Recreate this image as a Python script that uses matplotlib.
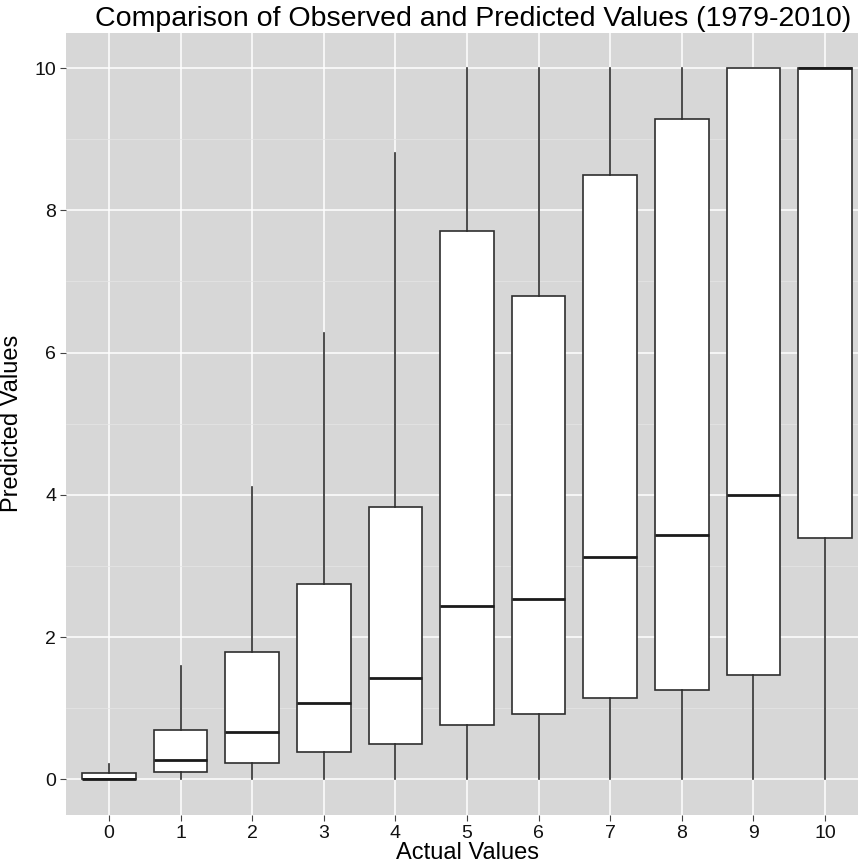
import matplotlib
matplotlib.use("Agg")
import matplotlib.pyplot as plt
from matplotlib.ticker import MultipleLocator

plt.rcParams['font.family'] = ['Liberation Sans', 'DejaVu Sans']

# box summaries, one entry per actual value
categories = [0, 1, 2, 3, 4, 5, 6, 7, 8, 9, 10]
whisker_low = [0, 0, 0, 0, 0, 0, 0, 0, 0, 0, 0]
q1 = [0.0, 0.10, 0.23, 0.39, 0.50, 0.77, 0.92, 1.14, 1.26, 1.47, 3.40]
median = [0.01, 0.28, 0.66, 1.08, 1.42, 2.44, 2.54, 3.12, 3.43, 4.00, 10.0]
q3 = [0.09, 0.70, 1.79, 2.75, 3.83, 7.71, 6.79, 8.50, 9.28, 10.0, 10.0]
whisker_high = [0.21, 1.60, 4.11, 6.28, 8.80, 10.0, 10.0, 10.0, 10.0, 10.0, 10.0]

stats = []
for i, c in enumerate(categories):
    stats.append({'label': str(c), 'whislo': whisker_low[i], 'q1': q1[i],
                  'med': median[i], 'q3': q3[i], 'whishi': whisker_high[i],
                  'fliers': []})

fig = plt.figure(figsize=(8.58, 8.65), dpi=100)
W, H = 858, 865
# panel runs past the right edge, like the cropped original
ax = fig.add_axes([66 / W, 50 / H, (868 - 66) / W, (815 - 32.5) / H])
ax.set_facecolor('#d7d7d7')
for s in ax.spines.values():
    s.set_visible(False)

edge = '#2e2e2e'
ax.bxp(stats, positions=categories, widths=0.75, showcaps=False,
       patch_artist=True,
       boxprops=dict(facecolor='white', edgecolor=edge, linewidth=1.2),
       whiskerprops=dict(color=edge, linewidth=1.2),
       medianprops=dict(color='#1a1a1a', linewidth=2.0, solid_capstyle='butt'),
       zorder=3)

ax.set_xlim(-0.6, 10.6)
ax.set_ylim(-0.5, 10.5)
ax.set_xticks(categories)
ax.set_xticklabels([str(c) for c in categories])
ax.yaxis.set_major_locator(MultipleLocator(2))
ax.yaxis.set_minor_locator(MultipleLocator(1))

ax.grid(True, which='major', color='white', linewidth=1.1, zorder=0)
ax.grid(True, which='minor', axis='y', color='#e6e6e6', linewidth=0.5, zorder=0)
ax.set_axisbelow(True)

ax.tick_params(axis='both', which='major', length=4, width=0.8, color='#444444',
               labelsize=14, labelcolor='#111111', pad=3)
ax.tick_params(axis='y', which='minor', length=0)

ax.set_xlabel('Actual Values', fontsize=17, labelpad=0)
ax.set_ylabel('Predicted Values', fontsize=17, labelpad=8)
fig.text(95 / W, 1 - 19 / H, 'Comparison of Observed and Predicted Values (1979-2010)',
         fontsize=20.5, ha='left', va='center')

fig.savefig('out.png', dpi=100)
